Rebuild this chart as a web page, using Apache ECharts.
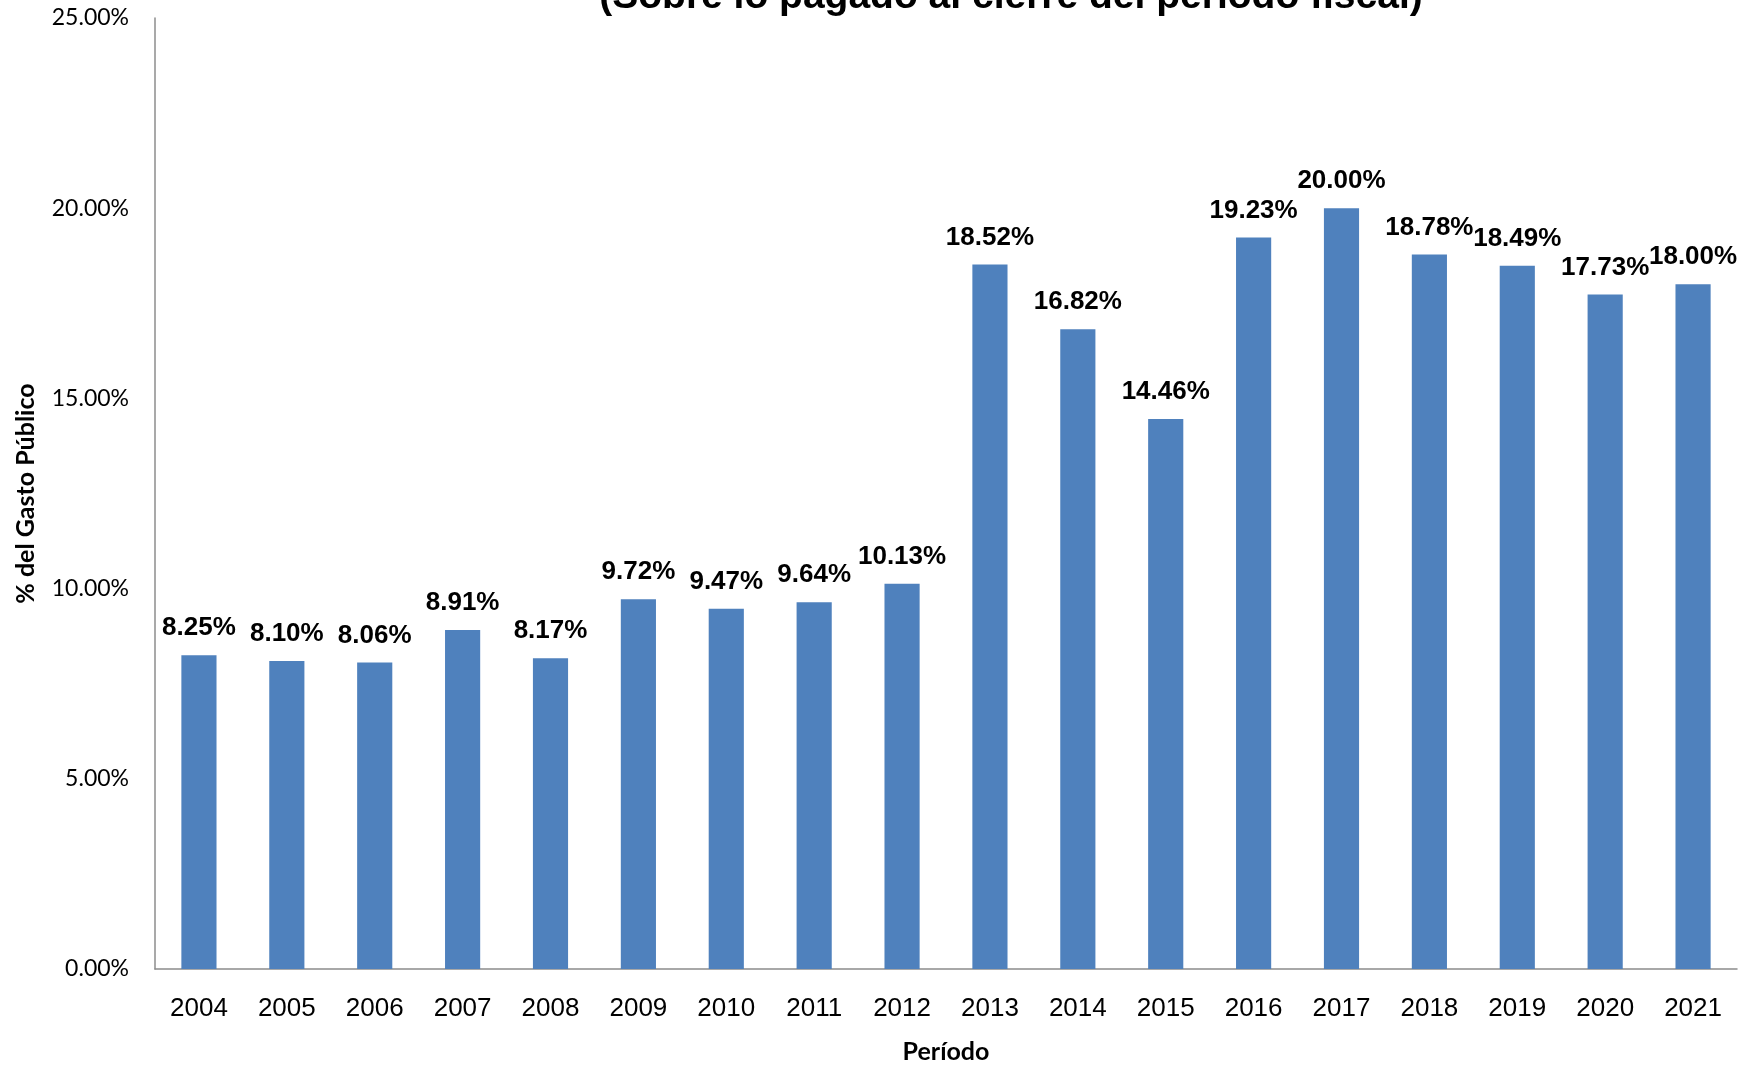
<!DOCTYPE html>
<html>
<head>
<meta charset="utf-8">
<script src="https://cdn.jsdelivr.net/npm/echarts@6/dist/echarts.min.js"></script>
<style>
    html, body { margin: 0; padding: 0; background: #fff; }
    #chart { width: 1751px; height: 1065px; }
</style>
</head>
<body>
<div id="chart"></div>
<script>
// datos
const years = ['2004', '2005', '2006', '2007', '2008', '2009', '2010', '2011', '2012',
    '2013', '2014', '2015', '2016', '2017', '2018', '2019', '2020', '2021'];
const shares = [8.25, 8.10, 8.06, 8.91, 8.17, 9.72, 9.47, 9.64, 10.13,
    18.52, 16.82, 14.46, 19.23, 20.00, 18.78, 18.49, 17.73, 18.00];
const yTicks = [0, 5, 25];

const titleText = '(Sobre lo pagado al cierre del período fiscal)';
const sans = '"Liberation Sans", Arial, sans-serif';

const chart = echarts.init(document.getElementById('chart'));

chart.setOption({
    animation: false,
    backgroundColor: '#fff',
    graphic: [{
        type: 'text',
        x: 1011,
        y: -22,
        style: {
            text: titleText,
            font: 'bold 39px "Liberation Sans", Arial, sans-serif',
            fill: '#000',
            align: 'center',
            verticalAlign: 'top'
        }
    }],
    grid: { left: 155, right: 14, top: 18, bottom: 96, outerBoundsMode: 'none' },
    xAxis: {
        type: 'category',
        data: years,
        name: 'Período',
        nameLocation: 'middle',
        nameGap: 70,
        nameTextStyle: { fontFamily: 'Lato', fontWeight: 'bold', fontSize: 25, color: '#000' },
        axisLine: { lineStyle: { color: '#8c8c8c', width: 1.5 } },
        axisTick: { show: false },
        axisLabel: { fontFamily: sans, fontSize: 26, color: '#000', margin: 27 }
    },
    yAxis: {
        type: 'value',
        min: yTicks[0],
        max: yTicks[2],
        interval: yTicks[1],
        name: '% del Gasto Público',
        nameLocation: 'middle',
        nameGap: 117,
        nameRotate: 90,
        nameTextStyle: { fontFamily: 'Lato', fontWeight: 'bold', fontSize: 25, color: '#000' },
        axisLine: { show: true, lineStyle: { color: '#8c8c8c', width: 1.5 } },
        axisTick: { show: false },
        splitLine: { show: false },
        axisLabel: {
            fontFamily: 'Lato', fontSize: 23, color: '#000', margin: 26,
            formatter: v => v.toFixed(2) + '%'
        }
    },
    series: [{
        type: 'bar',
        data: shares,
        barWidth: '40%',
        itemStyle: { color: '#4f81bd' },
        label: {
            show: true,
            position: 'top',
            distance: 14,
            fontFamily: sans,
            fontWeight: 'bold',
            fontSize: 26,
            color: '#000',
            formatter: p => p.value.toFixed(2) + '%'
        }
    }]
});
</script>
</body>
</html>
